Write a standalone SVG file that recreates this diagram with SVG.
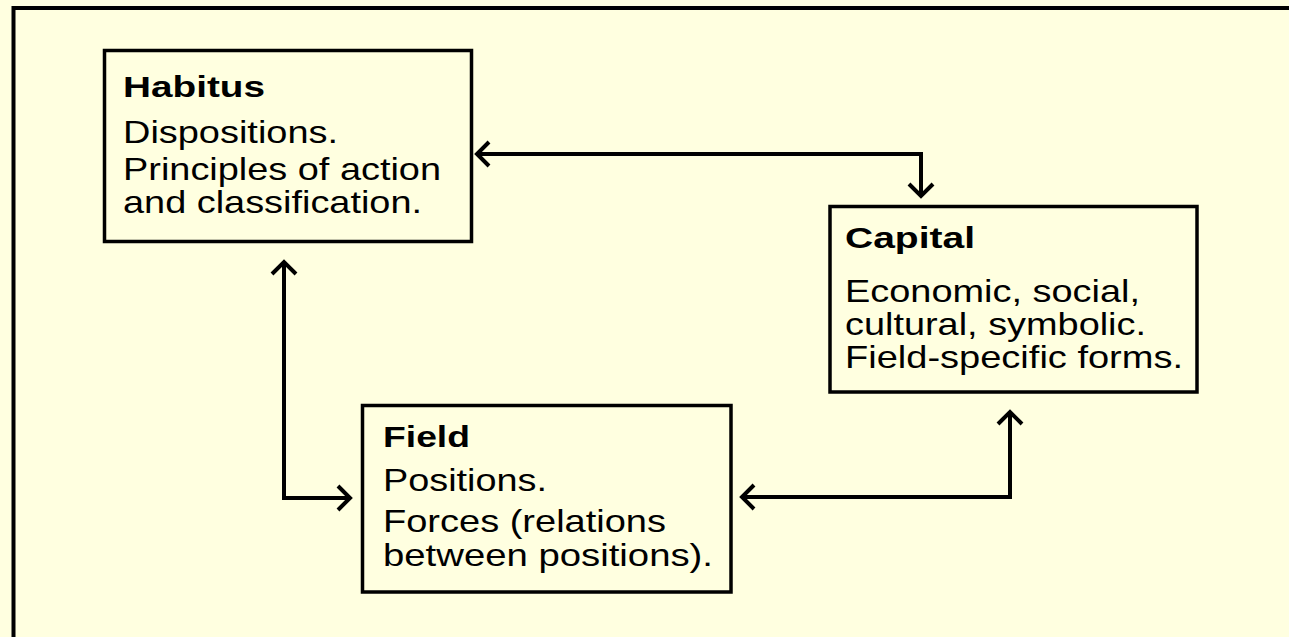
<svg xmlns="http://www.w3.org/2000/svg" width="1289" height="637" viewBox="0 0 1289 637">
  <style>
    .box { fill: #FFFFE0; stroke: #000; stroke-width: 3.5; }
    .title { font-family: "Liberation Sans", Arial, sans-serif; font-weight: bold; font-size: 29px; fill: #000; }
    .body { font-family: "Liberation Sans", Arial, sans-serif; font-size: 32px; fill: #000; }
    .conn { fill: none; stroke: #000; stroke-width: 4; stroke-linejoin: miter; }
  </style>
  <defs>
    <marker id="chev" markerUnits="userSpaceOnUse" viewBox="-16 -16 20 32" refX="0" refY="0" markerWidth="20" markerHeight="32" orient="auto-start-reverse">
      <path d="M-12,-12 L0,0 L-12,12" fill="none" stroke="#000" stroke-width="4" stroke-linecap="butt" stroke-linejoin="miter"/>
    </marker>
  </defs>
  <rect x="0" y="0" width="1289" height="637" fill="#FFFFE0"/>
  <rect id="frame" x="13.5" y="8" width="1300" height="700" fill="#FFFFE0" stroke="#000" stroke-width="4"/>

  <g id="connectors">
    <path class="conn" d="M477,154 H921 V196" marker-start="url(#chev)" marker-end="url(#chev)"/>
    <path class="conn" d="M284,262 V498 H350" marker-start="url(#chev)" marker-end="url(#chev)"/>
    <path class="conn" d="M742,497 H1010 V412" marker-start="url(#chev)" marker-end="url(#chev)"/>
  </g>

  <g id="habitus">
    <rect class="box" x="104.5" y="50.5" width="367" height="191"/>
    <text class="title" x="123" y="97" textLength="142" lengthAdjust="spacingAndGlyphs">Habitus</text>
    <text class="body" x="123" y="143" textLength="215" lengthAdjust="spacingAndGlyphs">Dispositions.</text>
    <text class="body" x="123" y="180" textLength="318" lengthAdjust="spacingAndGlyphs">Principles of action</text>
    <text class="body" x="123" y="213" textLength="299" lengthAdjust="spacingAndGlyphs">and classification.</text>
  </g>

  <g id="capital">
    <rect class="box" x="830" y="206.5" width="367" height="185.5"/>
    <text class="title" x="845" y="248" textLength="130" lengthAdjust="spacingAndGlyphs">Capital</text>
    <text class="body" x="845" y="302" textLength="295" lengthAdjust="spacingAndGlyphs">Economic, social,</text>
    <text class="body" x="845" y="335" textLength="301" lengthAdjust="spacingAndGlyphs">cultural, symbolic.</text>
    <text class="body" x="845" y="368" textLength="338" lengthAdjust="spacingAndGlyphs">Field-specific forms.</text>
  </g>

  <g id="field">
    <rect class="box" x="362.5" y="405.5" width="368.5" height="186.5"/>
    <text class="title" x="383" y="447" textLength="87" lengthAdjust="spacingAndGlyphs">Field</text>
    <text class="body" x="383" y="491" textLength="164" lengthAdjust="spacingAndGlyphs">Positions.</text>
    <text class="body" x="383" y="532" textLength="283" lengthAdjust="spacingAndGlyphs">Forces (relations</text>
    <text class="body" x="383" y="566" textLength="330" lengthAdjust="spacingAndGlyphs">between positions).</text>
  </g>
</svg>
